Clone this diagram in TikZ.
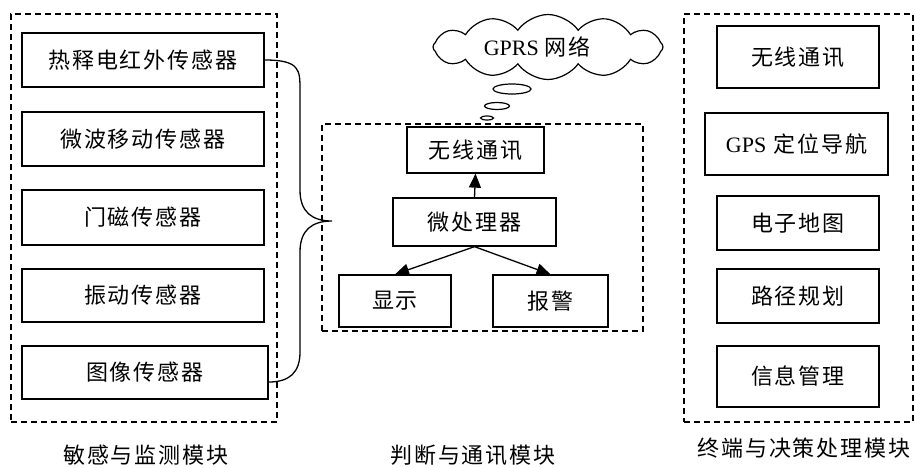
\documentclass[tikz,border=0pt]{standalone}
\usepackage{fontspec}
\setmainfont{Liberation Serif}
\newfontfamily\cjk[LetterSpace=9]{Noto Sans CJK SC}
\usetikzlibrary{shapes.geometric,shapes.symbols,arrows.meta,calc}
\begin{document}
\begin{tikzpicture}[x=1pt,y=-1pt,
  box/.style={draw,line width=1.3pt,inner sep=0pt,font=\cjk\fontsize{22}{22}\selectfont},
  group/.style={draw,dashed,dash pattern=on 6pt off 4pt,line width=1.3pt,inner sep=0pt},
  lab/.style={font=\cjk\fontsize{22}{22}\selectfont},
  arr/.style={line width=1.3pt,-{Triangle[length=14pt,width=12pt]}},
  bubble/.style={draw,ellipse,line width=1.2pt,inner sep=0pt}]
\useasboundingbox (0,0) rectangle (915,467);
% groups
\node[group,minimum width=266pt,minimum height=408pt] (gl) at (144,218) {};
\node[group,minimum width=321pt,minimum height=207pt] (gm) at (482.5,227.5) {};
\node[group,minimum width=229pt,minimum height=408pt] (gr) at (798.5,218) {};
% left boxes
\node[box,minimum width=242pt,minimum height=54pt] (l1) at (143,60) {热释电红外传感器};
\node[box,minimum width=242pt,minimum height=54pt] (l2) at (143,139) {微波移动传感器};
\node[box,minimum width=242pt,minimum height=55pt] (l3) at (143,217.5) {门磁传感器};
\node[box,minimum width=242pt,minimum height=53pt] (l4) at (143,295.5) {振动传感器};
\node[box,minimum width=246pt,minimum height=53pt] (l5) at (145,372.5) {图像传感器};
% middle boxes
\node[box,minimum width=137pt,minimum height=46pt] (mw) at (475.5,150) {无线通讯};
\node[box,minimum width=163pt,minimum height=48pt] (mp) at (474.5,222) {微处理器};
\node[box,minimum width=112pt,minimum height=52pt] (md) at (395,301) {显示};
\node[box,minimum width=115pt,minimum height=52pt] (ma) at (550.5,301) {报警};
% right boxes
\node[box,minimum width=162pt,minimum height=62pt] (r1) at (798,57) {无线通讯};
\node[box,minimum width=183pt,minimum height=62pt] (r2) at (796.5,144) {{\rmfamily GPS} 定位导航};
\node[box,minimum width=162pt,minimum height=54pt] (r3) at (798,223) {电子地图};
\node[box,minimum width=162pt,minimum height=54pt] (r4) at (798,296) {路径规划};
\node[box,minimum width=162pt,minimum height=61pt] (r5) at (798,376.5) {信息管理};
% cloud
\node[draw,cloud,cloud puffs=12,cloud puff arc=110,cloud ignores aspect,line width=1.2pt,
  minimum width=230pt,minimum height=65pt,inner sep=0pt] (cl) at (548,47) {};
\node[font=\fontsize{22}{22}\selectfont] (clt) at (537,47) {GPRS {\cjk 网络}};
\node[bubble,minimum width=38pt,minimum height=10pt] (b1) at (512,89) {};
\node[bubble,minimum width=25pt,minimum height=7pt] (b2) at (497,106) {};
\node[bubble,minimum width=13pt,minimum height=4pt] (b3) at (487,118) {};
% arrows
\draw[arr] (mp.north) -- (mw.south);
\draw[arr] (mp.south) -- (md.north);
\draw[arr] (mp.south) -- (ma.north);
% brace
\coordinate (tip) at (332,221);
\coordinate (bs) at ($(l5.east)+(0,9.5)$);
\draw[line width=1.3pt] (l1.east) .. controls (300,60) and (300,70) .. (300,90)
  -- (300,190) .. controls (300,212) and (312,221) .. (tip)
  .. controls (312,221) and (300,230) .. (300,252)
  -- (300,352) .. controls (300,372) and (290,382) .. (bs);
% labels
\node[lab] (tl) at (146,455) {敏感与监测模块};
\node[lab] (tm) at (473,455) {判断与通讯模块};
\node[lab] (tr) at (804,448) {终端与决策处理模块};
\end{tikzpicture}
\end{document}
